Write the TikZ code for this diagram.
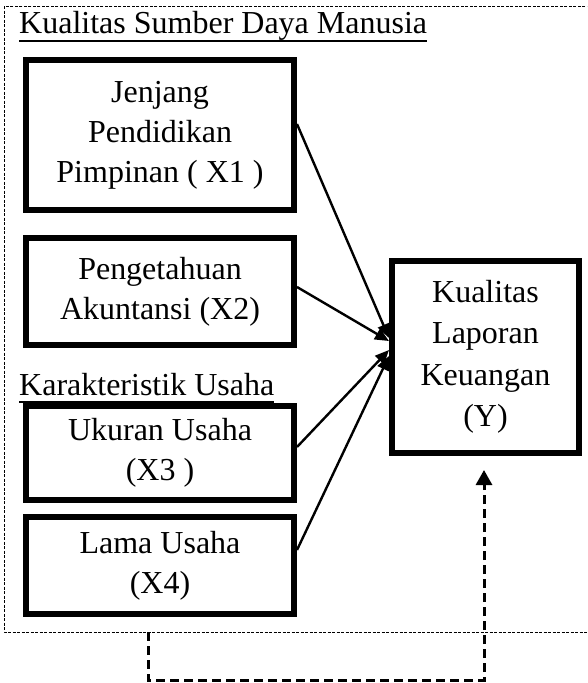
\documentclass[tikz,border=0pt]{standalone}
\usepackage{fontspec}
\setmainfont{Liberation Serif}
\usetikzlibrary{arrows.meta}

\tikzset{
  varbox/.style={draw, line width=6pt, rectangle, align=center, inner sep=0pt,
    font=\fontsize{32}{40}\selectfont},
  grouplabel/.style={anchor=base west, inner sep=0pt, font=\fontsize{32}{40}\selectfont},
  underl/.style={line width=1.8pt},
  frame/.style={line width=0.9pt, dash pattern=on 3pt off 1.5pt},
  effect/.style={line width=2.4pt, -{Triangle[length=14pt,width=12pt]}},
  feedback/.style={line width=3pt, dash pattern=on 9pt off 5pt,
    -{Triangle[length=15pt,width=16pt]}},
}

\begin{document}
\begin{tikzpicture}[x=1pt, y=-1pt]
\useasboundingbox (0,0) rectangle (587,683);
\clip (0,0) rectangle (587,683);

% dotted frame around the independent variables (runs off the right edge)
\draw[frame] (4,6) rectangle (600,632);

% group headings
\node[grouplabel] (sdm) at (19,33) {Kualitas Sumber Daya Manusia};
\draw[underl] ([yshift=-8pt]sdm.base west) -- ([yshift=-8pt]sdm.base east);
\node[grouplabel] (ku) at (19,395) {Karakteristik Usaha};
\draw[underl] ([yshift=-7pt]ku.base west) -- ([yshift=-7pt]ku.base east);

% independent variables
\node[varbox, minimum width=268pt, minimum height=150pt] (x1) at (160,135)
  {Jenjang\\Pendidikan\\Pimpinan ( X1 )};
\node[varbox, minimum width=268pt, minimum height=107pt] (x2) at (160,291.5)
  {Pengetahuan\\Akuntansi (X2)};
\node[varbox, minimum width=268pt, minimum height=94pt] (x3) at (160,453)
  {Ukuran Usaha\\(X3 )};
\node[varbox, minimum width=268pt, minimum height=97pt] (x4) at (160,565.5)
  {Lama Usaha\\(X4)};

% dependent variable
\node[varbox, minimum width=187pt, minimum height=192pt, font=\fontsize{32}{41.5}\selectfont] (y) at (485.5,357)
  {Kualitas\\Laporan\\Keuangan\\(Y)};

% effects
\draw[effect] ([yshift=11pt]x1.east) -- ([yshift=19pt]y.west);
\draw[effect] ([yshift=4.5pt]x2.east) -- ([yshift=16pt]y.west);
\draw[effect] ([yshift=6pt]x3.east) -- ([yshift=7pt]y.west);
\draw[effect] ([yshift=15.5pt]x4.east) -- ([yshift=1pt]y.west);

% feedback line from the frame to Y
\coordinate (fbstart) at (148,632);
\coordinate (fbcorner) at (148,680);
\draw[feedback] (fbstart) -- (fbcorner) -| ([xshift=-1.5pt,yshift=-14pt]y.south);
\end{tikzpicture}
\end{document}
